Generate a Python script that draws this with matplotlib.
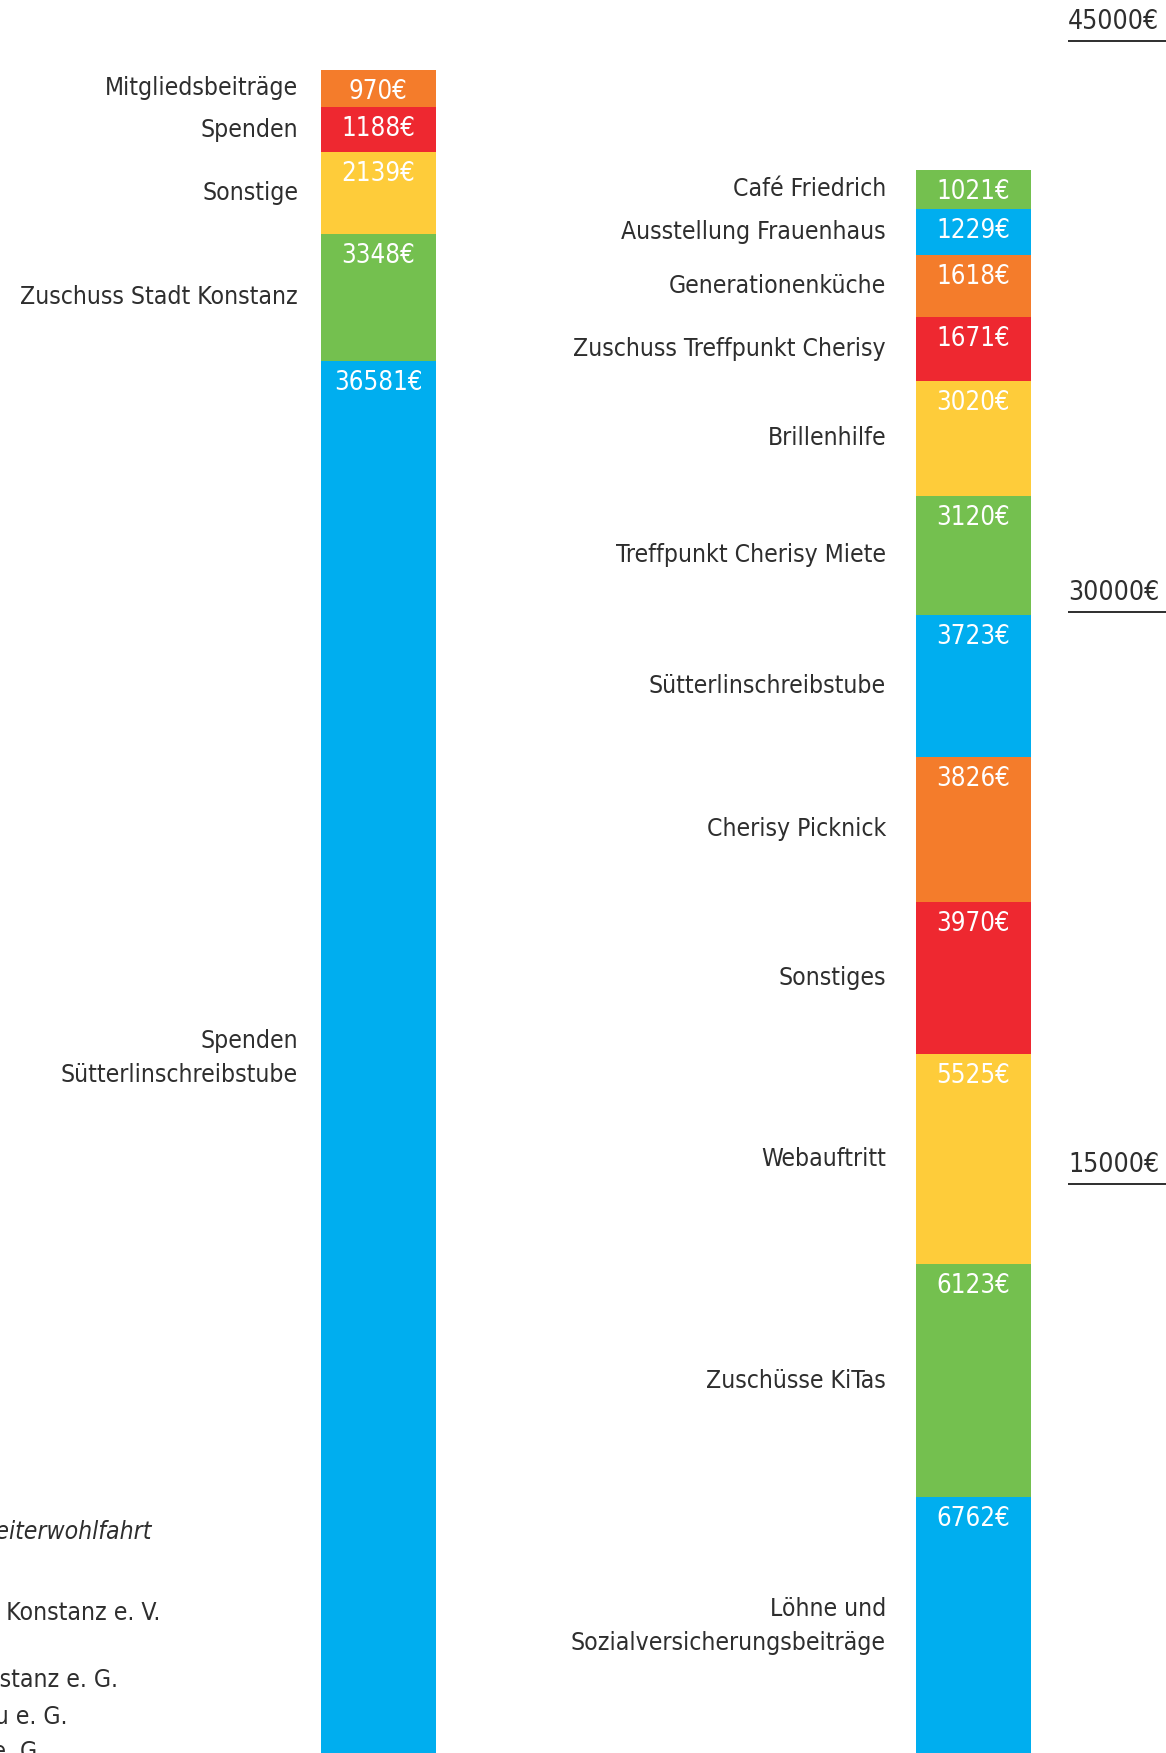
import matplotlib
matplotlib.use("Agg")
import matplotlib.pyplot as plt

# Einnahmen (links), von oben nach unten
income_labels = ["Mitgliedsbeiträge", "Spenden", "Sonstige", "Zuschuss Stadt Konstanz",
                 "Spenden\nSütterlinschreibstube"]
income_values = [970, 1188, 2139, 3348, 36581]
income_colors = ["#f47c2b", "#ee2830", "#fecc3a", "#74c04f", "#00aeef"]

# Ausgaben (rechts), von oben nach unten
expense_labels = ["Café Friedrich", "Ausstellung Frauenhaus", "Generationenküche",
                  "Zuschuss Treffpunkt Cherisy", "Brillenhilfe", "Treffpunkt Cherisy Miete",
                  "Sütterlinschreibstube", "Cherisy Picknick", "Sonstiges", "Webauftritt",
                  "Zuschüsse KiTas", "Löhne und\nSozialversicherungsbeiträge"]
expense_values = [1021, 1229, 1618, 1671, 3020, 3120, 3723, 3826, 3970, 5525, 6123, 6762]
expense_colors = ["#74c04f", "#00aeef", "#f47c2b", "#ee2830", "#fecc3a", "#74c04f",
                  "#00aeef", "#f47c2b", "#ee2830", "#fecc3a", "#74c04f", "#00aeef"]

scale_ticks = [15000, 30000, 45000]

# angeschnittene Legende links unten (nur rechter Teil sichtbar)
sponsor_texts = ["Arbeiterwohlfahrt", "Kreisverband Konstanz e. V.",
                 "Wohnbau Konstanz e. G.", "Bau e. G.", "Spar- und Bau e. G."]

FONT = "DejaVu Sans"
TXT = "#2e2e2e"

W, H = 1166, 1753
zero_px = 1755          # lage der nulllinie (px von oben)
px_per_eur = 0.0381


def px2val(ypx):
    return (zero_px - ypx) / px_per_eur


fig = plt.figure(figsize=(W / 100, H / 100), dpi=100)
ax = fig.add_axes([0, 0, 1, 1])
ax.set_xlim(0, W)
ax.set_ylim(px2val(H), px2val(0))
ax.axis("off")

pad = 22 / px_per_eur  # wert-label unter segmentoberkante
tk = dict(family=FONT, stretch="condensed")


def stack(x, width, values, labels, colors, label_x):
    bottom = 0
    for v, lab, c in zip(values[::-1], labels[::-1], colors[::-1]):
        ax.bar(x, v, width=width, bottom=bottom, color=c, linewidth=0)
        top = bottom + v
        ax.text(x, top - pad, f"{v}€", color="white", ha="center", va="center",
                fontsize=18.5, **tk)
        ax.text(label_x, bottom + v / 2, lab, color=TXT, ha="right", va="center",
                fontsize=17.7, linespacing=1.55, **tk)
        bottom = top


stack(378, 115, income_values, income_labels, income_colors, 298)
stack(973, 115, expense_values, expense_labels, expense_colors, 886)

for t in scale_ticks:
    ax.plot([1068, W], [t, t], color=TXT, lw=1.4, solid_capstyle="butt")
    ax.text(1068, t + 150, f"{t}€", color=TXT, ha="left", va="bottom",
            fontsize=19, **tk)

sponsor_ypx = [1532, 1613, 1680, 1717, 1752]
sponsor_right = [152, 160, 118, 67, 44]
sponsor_style = ["italic", "normal", "normal", "normal", "normal"]
for txt, ypx, xr, st in zip(sponsor_texts, sponsor_ypx, sponsor_right, sponsor_style):
    ax.text(xr, px2val(ypx), txt, color=TXT, ha="right", va="center", fontsize=17.7,
            style=st, **tk)

fig.savefig("out.png", dpi=100)
